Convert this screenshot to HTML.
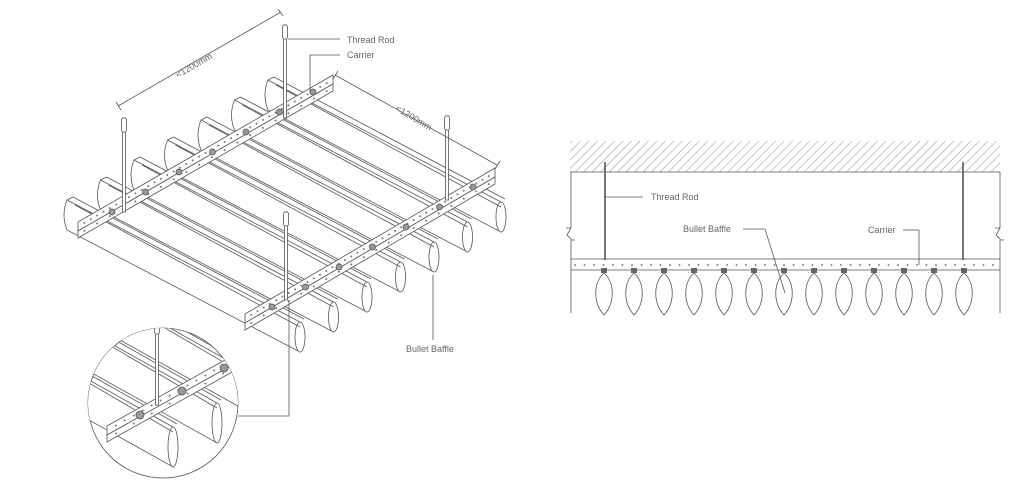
<!DOCTYPE html>
<html><head><meta charset="utf-8"><style>
html,body{margin:0;padding:0;background:#fff;width:1024px;height:494px;overflow:hidden}
svg{display:block}
text{font-family:"Liberation Sans",sans-serif;fill:#666;font-size:9px}
</style></head><body>
<svg id="s" width="1024" height="494" viewBox="0 0 1024 494" xmlns="http://www.w3.org/2000/svg">
<defs>
<pattern id="h" width="6" height="6" patternUnits="userSpaceOnUse" patternTransform="rotate(45)">
<line x1="0" y1="0" x2="0" y2="6" stroke="#777" stroke-width="0.8"/></pattern>
<clipPath id="cc"><circle cx="163" cy="403" r="75"/></clipPath>
</defs>
<g id="L" stroke="#555" stroke-width="0.8" fill="none"></g>
<g id="R" stroke="#555" stroke-width="0.8" fill="none">
<rect x="570" y="141" width="430" height="31" fill="url(#h)" stroke="none"/>
<line x1="570" y1="172" x2="1000" y2="172"/>
<line x1="571" y1="172" x2="571" y2="228"/><line x1="571" y1="240" x2="571" y2="313"/>
<polyline points="566,228 571,228 567,235 572,240 575,240"/>
<line x1="1000" y1="172" x2="1000" y2="228"/><line x1="1000" y1="240" x2="1000" y2="313"/>
<polyline points="995,228 1000,228 996,235 1001,240 1004,240"/>
<line x1="571" y1="259" x2="1000" y2="259"/><line x1="571" y1="270" x2="1000" y2="270"/>
<line x1="605" y1="162" x2="605" y2="260" stroke-width="1.6"/>
<line x1="963" y1="162" x2="963" y2="260" stroke-width="1.6"/>
<line x1="605" y1="197" x2="643" y2="197"/>
<line x1="743" y1="229" x2="765" y2="229"/><line x1="765" y1="229" x2="785" y2="293"/>
<line x1="903" y1="230" x2="919" y2="230"/><line x1="919" y1="230" x2="919" y2="265"/>
</g>
<text x="651" y="200">Thread Rod</text>
<text x="683" y="232">Bullet Baffle</text>
<text x="868" y="233">Carrier</text>
<text x="347" y="43">Thread Rod</text>
<text x="347" y="58">Carrier</text>
<text x="406" y="352">Bullet Baffle</text>
<text transform="translate(178,78) rotate(-30)">&lt;1200mm</text>
<text transform="translate(395,110) rotate(31)">&lt;1200mm</text>
</svg>
<script>
var NS="http://www.w3.org/2000/svg";
function el(p,t,a){var e=document.createElementNS(NS,t);for(var k in a)e.setAttribute(k,a[k]);p.appendChild(e);return e;}
var R=document.getElementById("R"),L=document.getElementById("L");
for(var x=575;x<1000;x+=9.5)el(R,"circle",{cx:x,cy:265,r:0.9,fill:"#666",stroke:"none"});
for(var i=0;i<13;i++){var c=604+30*i;
el(R,"rect",{x:c-3,y:268,width:6,height:5,fill:"#666",stroke:"none"});
el(R,"path",{d:"M"+c+",273 C"+(c+11)+",283 "+(c+11)+",303 "+c+",315 C"+(c-11)+",303 "+(c-11)+",283 "+c+",273 Z"});}
function baffles(g,n,sx,sy,dx,dy,ex,ey,h){
for(var i=n-1;i>=0;i--){var X=sx+dx*i,Y=sy+dy*i,EX=X+ex,EY=Y+ey;
el(g,"path",{d:"M"+X+","+Y+" L"+EX+","+EY+" L"+EX+","+(EY+h)+" L"+X+","+(Y+h)+" Q"+(X-6)+","+(Y+h/2)+" "+X+","+Y+" Z",fill:"#fff"});
el(g,"ellipse",{cx:EX,cy:EY+h/2,rx:5,ry:h/2,fill:"#fff"});
el(g,"line",{x1:X+6,y1:Y-3,x2:EX+4,y2:EY-3});
el(g,"line",{x1:X+6,y1:Y-3,x2:X,y2:Y});
el(g,"line",{x1:X+8,y1:Y+5,x2:EX,y2:EY+5});}}
function carrier(g,ax,ay,bx,by,n){
el(g,"polygon",{points:ax+","+ay+" "+bx+","+by+" "+(bx)+","+(by+9)+" "+ax+","+(ay+9),fill:"#fff"});
el(g,"polygon",{points:ax+","+(ay+9)+" "+bx+","+(by+9)+" "+bx+","+(by+16)+" "+ax+","+(ay+16),fill:"#fff"});
for(var k=1;k<n;k++){var t=k/n;el(g,"circle",{cx:ax+(bx-ax)*t,cy:ay+(by-ay)*t+4.5,r:1,fill:"#777",stroke:"none"});
if(k%2)el(g,"circle",{cx:ax+(bx-ax)*t,cy:ay+(by-ay)*t+12.5,r:1,fill:"#777",stroke:"none"});}}
function rod(g,x,y1,y2){el(g,"rect",{x:x-1.5,y:y1,width:3,height:y2-y1,fill:"#fff"});el(g,"rect",{x:x-2.5,y:y1,width:5,height:14,rx:2,fill:"#fff"});}
baffles(L,7,67,200,33.5,-20,233,122,30);
carrier(L,78,222,333,75,40);
carrier(L,245,314,495,168,40);
for(var i=0;i<7;i++){el(L,"circle",{cx:112+33.5*i,cy:212-20*i,r:3,fill:"#999"});el(L,"circle",{cx:272+33.5*i,cy:307-20*i,r:3,fill:"#999"});}
rod(L,124,118,212);rod(L,285,25,118);rod(L,447,116,200);rod(L,286,212,300);
el(L,"line",{x1:118,y1:106,x2:281,y2:12});el(L,"line",{x1:116,y1:102,x2:121,y2:110});el(L,"line",{x1:278,y1:9,x2:283,y2:16});
el(L,"line",{x1:335,y1:75,x2:497,y2:165});el(L,"line",{x1:333,y1:79,x2:338,y2:71});el(L,"line",{x1:495,y1:169,x2:500,y2:161});
el(L,"line",{x1:288,y1:39,x2:340,y2:39});
el(L,"polyline",{points:"310,92 310,55 340,55"});
el(L,"line",{x1:433,y1:275,x2:433,y2:340});
el(L,"polyline",{points:"289,300 289,416 238,416"});
el(L,"circle",{cx:163,cy:403,r:75,fill:"#fff"});
var C=el(L,"g",{"clip-path":"url(#cc)"});
baffles(C,4,-27,315,44,-24,200,112,40);
carrier(C,107,426,250,346,16);
rod(C,157,320,405);
el(C,"circle",{cx:140,cy:415,r:4,fill:"#999"});
el(C,"circle",{cx:182,cy:391,r:4,fill:"#999"});
el(C,"circle",{cx:224,cy:368,r:4,fill:"#999"});
</script>
</body></html>
